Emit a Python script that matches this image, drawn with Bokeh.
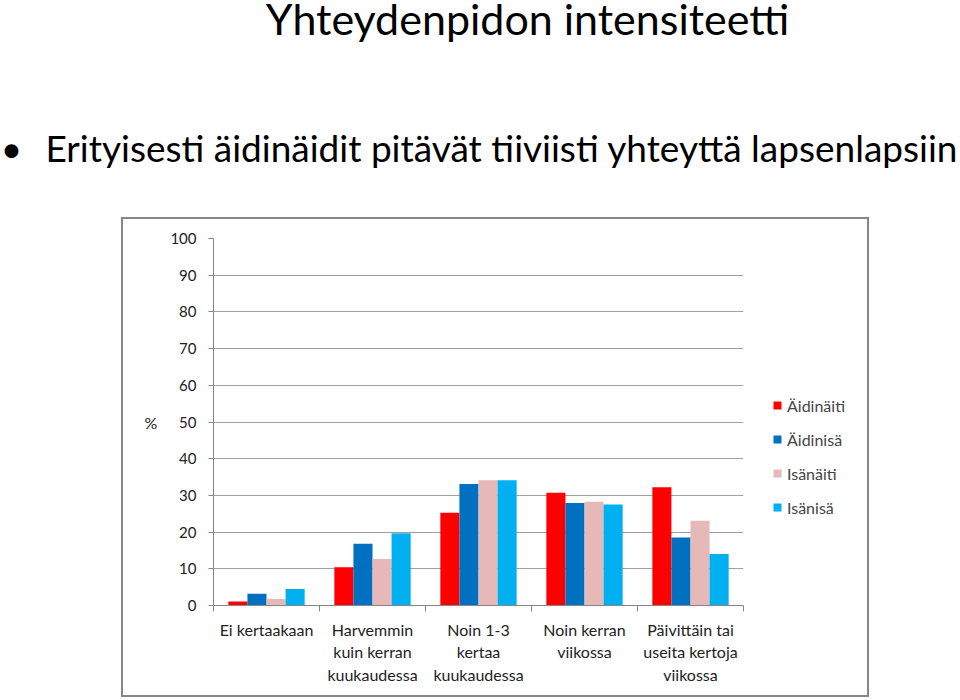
from bokeh.plotting import figure
from bokeh.layouts import column, row
from bokeh.models import Range1d, FixedTicker, Legend, LegendItem, Spacer
from bokeh.core.properties import value
from bokeh.embed import file_html
from bokeh.resources import INLINE
import numpy as np

# ---- data ----
categories = [
    "Ei kertaakaan",
    "Harvemmin\nkuin kerran\nkuukaudessa",
    "Noin 1-3\nkertaa\nkuukaudessa",
    "Noin kerran\nviikossa",
    "Päivittäin tai\nuseita kertoja\nviikossa",
]
series_names = ["Äidinäiti", "Äidinisä", "Isänäiti", "Isänisä"]
aidinaiti = [1.1, 10.4, 25.3, 30.7, 32.2]
aidinisa = [3.2, 16.8, 33.1, 27.9, 18.5]
isanaiti = [1.8, 12.7, 34.1, 28.3, 23.1]
isanisa = [4.5, 19.7, 34.1, 27.5, 14.0]
y_ticks = [0, 10, 20, 30, 40, 50, 60, 70, 80, 90, 100]
title_text = "Yhteydenpidon intensiteetti"
bullet_text = "Erityisesti äidinäidit pitävät tiiviisti yhteyttä lapsenlapsiin"
y_label = "%"

series = [aidinaiti, aidinisa, isanaiti, isanisa]
colors = ["#FF0000", "#0070C0", "#E6B9B8", "#00B0F0"]
offsets = [-0.27, -0.09, 0.09, 0.27]
FONT = "Lato"
GRAY = "#868686"

# ---- heading (title + bullet) ----
head = figure(width=960, height=217, x_range=Range1d(0, 960), y_range=Range1d(217, 0),
              x_axis_type=None, y_axis_type=None, output_backend="svg", toolbar_location=None,
              min_border=0)
head.grid.visible = False
head.outline_line_color = None
head.text(x=[527], y=[18], text=[title_text], text_align="center", text_baseline="alphabetic",
          text_font=value(FONT), text_font_size="43px", text_color="black")
head.text(x=[11], y=[147], text=["•"], text_align="center", text_baseline="alphabetic",
          text_font=value(FONT), text_font_size="37px", text_color="black")
head.text(x=[45], y=[147], text=[bullet_text], text_align="left", text_baseline="alphabetic",
          text_font=value(FONT), text_font_size="37px", text_color="black")

# ---- chart ----
p = figure(width=637, height=476, x_range=Range1d(0, len(categories)), y_range=Range1d(0, 100),
           output_backend="svg", toolbar_location=None,
           min_border_left=90, min_border_right=17, min_border_top=19, min_border_bottom=90)
p.outline_line_color = None

centers = np.arange(len(categories)) + 0.5
for vals, col, off in zip(series, colors, offsets):
    p.vbar(x=centers + off, top=vals, width=0.18, fill_color=col, line_color=None)

p.xgrid.grid_line_color = None
p.ygrid.grid_line_color = "#A0A0A0"
p.yaxis.ticker = FixedTicker(ticks=y_ticks)
p.yaxis.major_tick_out = 5
p.yaxis.major_tick_in = 0
p.yaxis.minor_tick_line_color = None
p.yaxis.axis_line_color = GRAY
p.yaxis.major_tick_line_color = GRAY
p.yaxis.major_label_text_font = FONT
p.yaxis.major_label_text_font_size = "15px"
p.yaxis.major_label_text_color = "#222222"
p.yaxis.major_label_standoff = 12
p.yaxis.axis_label = y_label
p.yaxis.axis_label_orientation = "horizontal"
p.yaxis.axis_label_text_font = FONT
p.yaxis.axis_label_text_font_style = "normal"
p.yaxis.axis_label_text_font_size = "16px"
p.yaxis.axis_label_text_color = "#222222"
p.yaxis.axis_label_standoff = 10

p.xaxis.ticker = FixedTicker(ticks=list(centers), minor_ticks=list(range(len(categories) + 1)))
p.xaxis.major_label_overrides = {float(c): lab for c, lab in zip(centers, categories)}
p.xaxis.major_tick_line_color = None
p.xaxis.minor_tick_out = 6
p.xaxis.minor_tick_in = 0
p.xaxis.minor_tick_line_color = GRAY
p.xaxis.axis_line_color = GRAY
p.xaxis.major_label_text_font = FONT
p.xaxis.major_label_text_font_size = "16px"
p.xaxis.major_label_text_color = "#222222"
p.xaxis.major_label_standoff = 8

# ---- legend panel (its bars lie far outside its visible ranges; only the legend shows) ----
leg = figure(width=107, height=476, x_range=Range1d(-1001, -1000), y_range=Range1d(-1001, -1000),
             x_axis_type=None, y_axis_type=None, output_backend="svg", toolbar_location=None,
             min_border=0)
leg.grid.visible = False
leg.outline_line_color = None
items = []
for name, vals, col, off in zip(series_names, series, colors, offsets):
    r = leg.vbar(x=centers + off, top=vals, bottom=[v * 0.999 for v in vals], width=0.18,
                 fill_color=col, line_color=None)
    items.append(LegendItem(label=name, renderers=[r]))
legend = Legend(items=items, location=(12, 88), border_line_color=None, background_fill_alpha=0,
                glyph_width=10, glyph_height=10, label_height=20, spacing=14, padding=0, margin=0,
                label_text_font=FONT, label_text_font_size="16px", label_standoff=5)
leg.add_layout(legend)

chart = row(p, leg, styles={"border": "2px solid " + GRAY})
layout = column(head, row(Spacer(width=121, height=480), chart))
open("out.html", "w").write(file_html(layout, INLINE))
